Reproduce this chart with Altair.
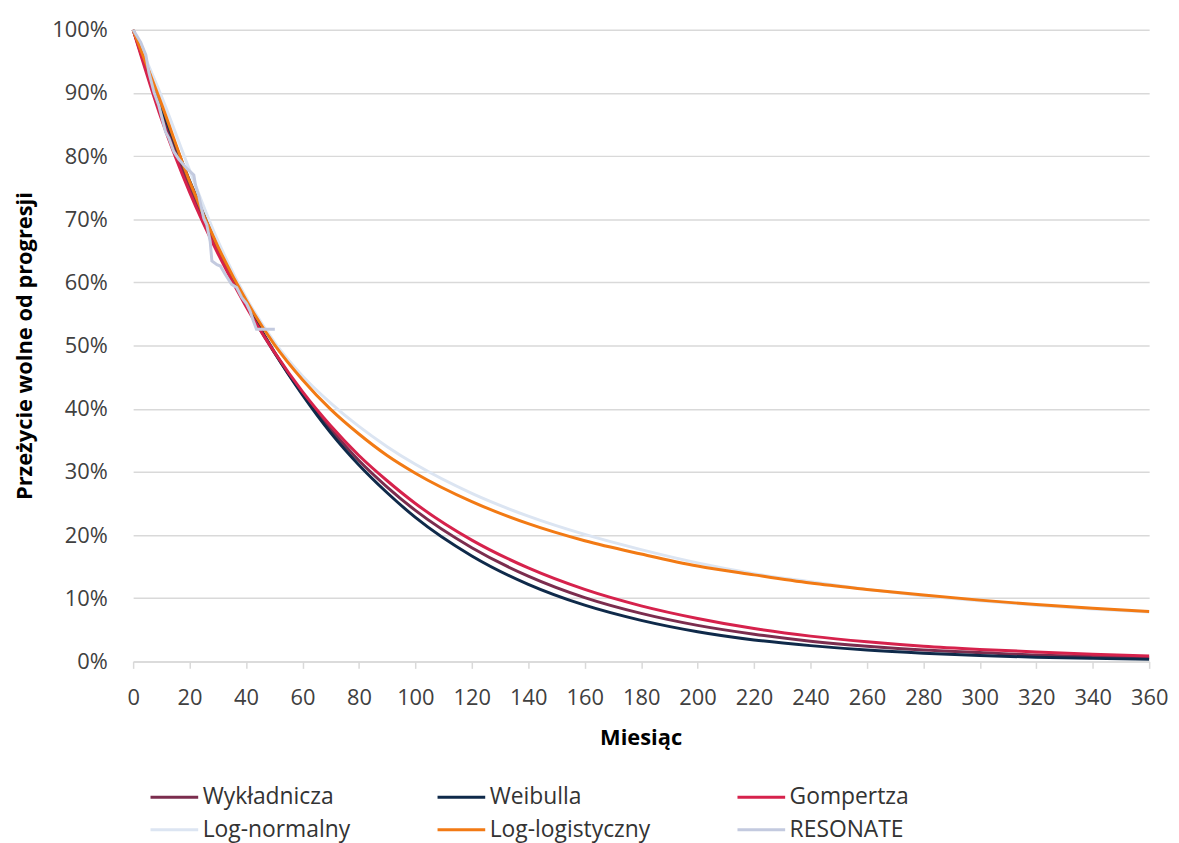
import altair as alt
import pandas as pd

months = [0, 10, 20, 30, 40, 50, 60, 70, 80, 90, 100, 120, 140, 160, 180, 200,
          220, 240, 260, 280, 300, 320, 340, 360]

wykladnicza = [100, 86.7, 75.1, 65.1, 56.4, 48.9, 42.4, 36.8, 31.8, 27.6, 23.9, 18.0,
               13.5, 10.1, 7.6, 5.7, 4.3, 3.2, 2.4, 1.8, 1.4, 1.0, 0.8, 0.6]
weibulla = [100, 87.7, 76.1, 65.9, 56.9, 49.0, 42.2, 36.2, 31.1, 26.7, 22.8, 16.7,
            12.2, 8.9, 6.5, 4.7, 3.4, 2.5, 1.8, 1.3, 0.93, 0.67, 0.48, 0.35]
gompertza = [100, 85.9, 74.3, 64.6, 56.2, 49.0, 42.7, 37.3, 32.6, 28.6, 25.0, 19.2,
             14.8, 11.4, 8.8, 6.8, 5.2, 4.0, 3.1, 2.4, 1.9, 1.5, 1.15, 0.85]
log_normalny = [100, 89.5, 77.8, 66.6, 57.6, 50.6, 45.2, 40.9, 37.2, 34.0, 31.2, 26.6,
                23.0, 20.1, 17.7, 15.6, 13.9, 12.6, 11.4, 10.4, 9.6, 8.9, 8.3, 7.8]
log_logistyczny = [100, 88.3, 76.0, 65.7, 57.2, 50.2, 44.6, 39.9, 36.0, 32.6, 29.8, 25.3,
                   21.8, 19.1, 17.0, 15.1, 13.7, 12.4, 11.4, 10.5, 9.7, 9.0, 8.4, 7.9]

# RESONATE Kaplan-Meier curve
km_months = [0, 2.7, 4.5, 5.6, 7.4, 9.1, 11.5, 12.7, 14.4, 16.2, 19.1, 21.5, 22.1, 23.2,
             25.0, 26.1, 27.3, 27.9, 29.7, 30.9, 32.6, 34.9, 36.7, 38.5, 40.2, 41.4,
             42.6, 43.7, 50.2]
km_pct = [100, 98, 96, 93.2, 90.1, 88, 83.8, 82.8, 80.7, 79.5, 78, 77, 75.4, 73.8,
          70.2, 69.1, 66.5, 63.4, 62.8, 62.6, 61.3, 59.7, 59.2, 57.6, 56.6, 55.5,
          53.9, 52.6, 52.6]

names = ["Wykładnicza", "Weibulla", "Gompertza", "Log-normalny", "Log-logistyczny", "RESONATE"]
colors = ["#7B2D4E", "#0F2A4A", "#D6224C", "#DCE5F2", "#F27A14", "#C3CADF"]

rows = []
for name, vals in zip(names[:5], [wykladnicza, weibulla, gompertza, log_normalny, log_logistyczny]):
    for m, v in zip(months, vals):
        rows.append({"series": name, "month": m, "pct": v})
for m, v in zip(km_months, km_pct):
    rows.append({"series": "RESONATE", "month": m, "pct": v})
df = pd.DataFrame(rows)

FONT = "Open Sans"

color = alt.Color(
    "series:N",
    scale=alt.Scale(domain=names, range=colors),
    legend=alt.Legend(
        title=None, orient="none", legendX=30, legendY=761, columns=3,
        direction="horizontal",
        symbolType="M-2.4,0H2.4", symbolSize=400, symbolStrokeWidth=3,
        labelFont=FONT, labelFontSize=23, labelColor="#333333",
        columnPadding=81, rowPadding=9, labelOffset=17, labelLimit=400,
    ),
)
x = alt.X(
    "month:Q",
    scale=alt.Scale(domain=[0, 360], nice=False),
    axis=alt.Axis(
        values=list(range(0, 361, 20)), title="Miesiąc",
        titleFont=FONT, titleFontSize=22, titleFontWeight="bold", titleColor="#000000",
        titleX=511, titleY=77, titleBaseline="middle", titleAlign="center",
        labelFont=FONT, labelFontSize=22, labelColor="#404040", labelPadding=19,
        labelFlush=False, tickColor="#D9D9D9", tickSize=7, tickWidth=1.5,
        domainColor="#D9D9D9", domainWidth=1.5, grid=False,
    ),
)
y = alt.Y(
    "pct:Q",
    scale=alt.Scale(domain=[0, 100], nice=False),
    axis=alt.Axis(
        values=list(range(0, 101, 10)), labelExpr="datum.value + '%'",
        title="Przeżycie wolne od progresji",
        titleFont=FONT, titleFontSize=22, titleFontWeight="bold", titleColor="#000000",
        titleX=-109, titleY=318, titleAngle=270, titleAlign="center", titleBaseline="middle",
        labelFont=FONT, labelFontSize=22, labelColor="#404040", labelPadding=26,
        labelFlush=False, ticks=False, domain=False,
        grid=True, gridColor="#D9D9D9", gridWidth=1.5,
    ),
)

layers = []
for name in names:
    interp = "linear" if name == "RESONATE" else "monotone"
    layers.append(
        alt.Chart(df)
        .transform_filter(alt.datum.series == name)
        .mark_line(strokeWidth=3, interpolate=interp)
        .encode(x=x, y=y, color=color)
    )

chart = (
    alt.layer(*layers)
    .properties(
        width=1023, height=636,
        autosize=alt.AutoSizeParams(type="none"),
        padding={"left": 126, "top": 19, "right": 22, "bottom": 188},
        background="white",
    )
    .configure_view(stroke=None)
)

chart.save("out.html", embed_options={"renderer": "svg", "actions": False})
